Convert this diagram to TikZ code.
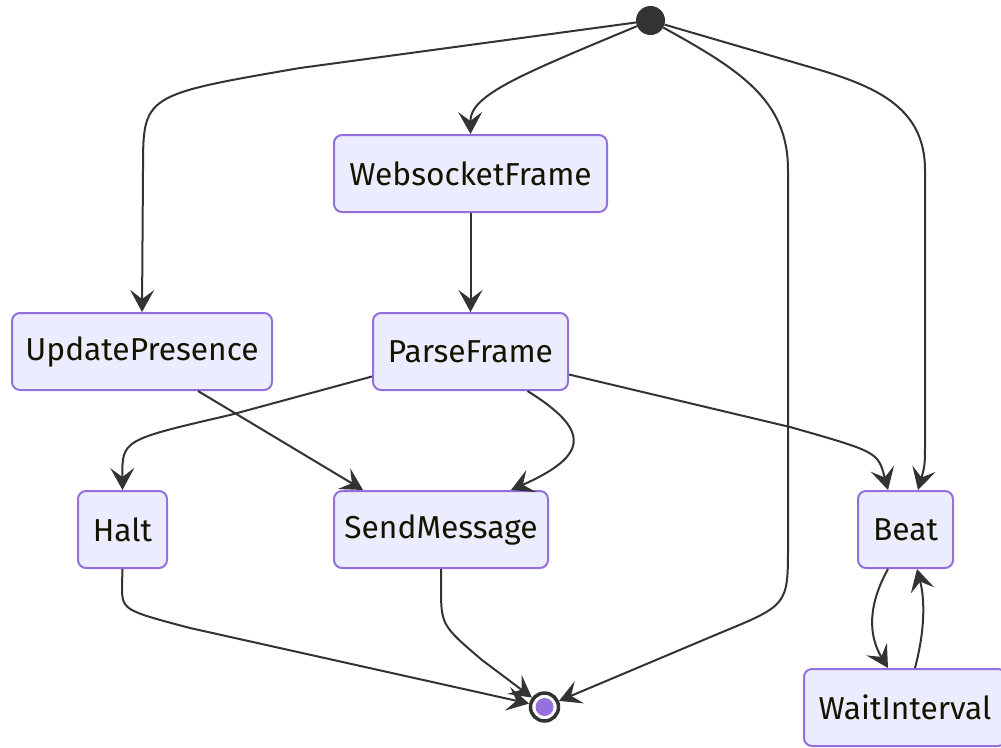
\documentclass[tikz,border=0pt]{standalone}
\usepackage{fontspec}
\setmainfont{Fira Sans}
\usetikzlibrary{arrows.meta}
\definecolor{boxfill}{HTML}{ECECFF}
\definecolor{boxline}{HTML}{9370DB}
\definecolor{edgecol}{HTML}{333333}
\definecolor{txt}{HTML}{131300}
\begin{document}
\begin{tikzpicture}[x=1pt,y=-1pt,
  state/.style={draw=boxline, fill=boxfill, line width=2pt, rounded corners=8pt,
    minimum height=77pt, inner sep=0pt, text=txt, font=\fontsize{31.7}{36}\selectfont},
  tr/.style={draw=edgecol, line width=2pt, line join=round,
    -{Stealth[length=22pt,width=24pt,inset=9pt]}},
]
\useasboundingbox (0,0) rectangle (1001,747);

% states
\node[circle, fill=edgecol, minimum size=29pt, inner sep=0pt] (start) at (650.5,20.5) {};
\node[state, minimum width=273pt] (wsf)    at (470.5,173.5) {WebsocketFrame};
\node[state, minimum width=260pt] (upd)    at (142,351.5)   {UpdatePresence};
\node[state, minimum width=195pt] (parse)  at (470.5,351.5) {ParseFrame};
\node[state, minimum width=89pt]  (halt)   at (122.5,529.5) {Halt};
\node[state, minimum width=214pt] (send)   at (441,529.5)   {SendMessage};
\node[state, minimum width=95pt]  (beat)   at (905.5,529.5) {Beat};
\node[state, minimum width=202pt] (wait)   at (905,707.5)   {WaitInterval};
\node[circle, draw=edgecol, line width=3.5pt, fill=white, minimum size=28pt, inner sep=0pt] (end) at (544.5,707) {};
\fill[boxline] (end) circle (9pt);

% transitions
\draw[tr] (start) -- (300,68) .. controls (143,95) .. (143,170) -- (upd.north);
\draw[tr] (start) .. controls (520,75) and (470,95) .. (wsf.north);
\draw[tr] (start) .. controls (740,70) and (788,100) .. (788,170) -- (788,545)
  .. controls (788,605) .. (720,633) -- (end);
\draw[tr] (start) -- (820,70) .. controls (880,88) and (925,110) .. (925,170) -- (925,440)
  .. controls (925,465) .. ([xshift=12.5pt]beat.north);
\draw[tr] (wsf) -- (parse);
\draw[tr] ([xshift=56pt]upd.south) -- ([xshift=-78pt]send.north);
\draw[tr] ([yshift=-25pt]parse.west) -- (230,415) .. controls (122,440) .. (halt.north);
\draw[tr] ([xshift=57pt]parse.south) .. controls (590,430) and (590,455) .. ([xshift=70pt]send.north);
\draw[tr] ([yshift=-23pt]parse.east) -- (790,427) .. controls (878,452) .. ([xshift=-17.5pt]beat.north);
\draw[tr] (halt.south) -- (122,585) .. controls (122,610) .. (190,628) -- (end);
\draw[tr] (send.south) -- (441,585) .. controls (441,625) .. (482,660) -- (end);
\draw[tr] ([xshift=-17.5pt]beat.south) .. controls (868,605) and (868,635) .. ([xshift=-17pt]wait.north);
\draw[tr] ([xshift=10pt]wait.north) .. controls (925,630) and (925,600) .. ([xshift=11.5pt]beat.south);
\end{tikzpicture}
\end{document}
